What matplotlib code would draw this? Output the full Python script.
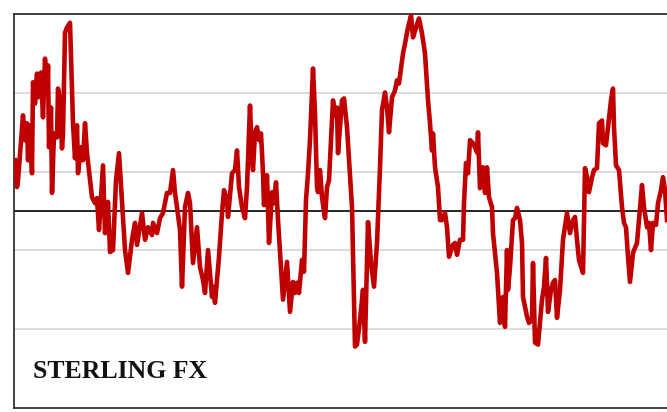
import matplotlib
matplotlib.use("Agg")
import matplotlib.pyplot as plt

# weekly index (arbitrary units) and z-score style value
weeks = [15, 17, 18, 23, 25, 27, 28, 30, 32, 33, 35, 37, 38, 41, 43, 45, 47, 48, 49, 51,
         52, 54, 57, 58, 60, 62, 63, 65, 67, 70, 73, 75, 77, 78, 81, 83, 85, 87, 92, 95,
         97, 99, 103, 105, 108, 110, 113, 116, 119, 125, 128, 132, 135, 137, 142, 145, 148, 152, 153, 157,
         160, 163, 167, 170, 173, 175, 177, 180, 182, 185, 188, 190, 193, 197, 200, 203, 205, 208, 212, 213,
         215, 219, 222, 224, 227, 228, 232, 235, 237, 239, 242, 245, 247, 250, 252, 253, 255, 257, 259, 261,
         263, 264, 267, 269, 272, 274, 276, 278, 283, 287, 290, 293, 295, 297, 299, 302, 304, 306, 308, 310,
         313, 315, 317, 318, 320, 322, 325, 327, 329, 333, 335, 337, 338, 342, 344, 347, 352, 355, 357, 360,
         363, 365, 368, 371, 374, 377, 380, 382, 385, 387, 389, 392, 395, 397, 399, 401, 403, 405, 408, 411,
         413, 416, 419, 422, 425, 428, 430, 432, 433, 435, 438, 440, 442, 445, 447, 449, 453, 455, 457, 460,
         463, 464, 466, 468, 470, 473, 475, 477, 478, 480, 483, 485, 487, 489, 492, 493, 497, 500, 503, 505,
         507, 508, 510, 513, 515, 517, 520, 522, 523, 527, 529, 532, 533, 535, 538, 542, 544, 546, 548, 551,
         553, 555, 557, 560, 563, 567, 570, 573, 575, 577, 579, 583, 585, 587, 589, 592, 594, 597, 599, 602,
         603, 606, 608, 611, 613, 614, 616, 619, 622, 624, 626, 628, 630, 633, 637, 639, 642, 644, 647, 649,
         651, 653, 656, 658, 661, 663, 665, 667]
sterling = [1.29, 0.61, 0.78, 2.43, 1.80, 2.23, 1.29, 2.18, 0.96, 3.27, 2.73, 3.49, 2.89, 3.52, 2.38, 3.87, 2.99, 3.70, 1.62, 2.63,
            0.46, 1.97, 1.87, 3.11, 2.81, 1.59, 1.97, 4.53, 4.66, 4.78, 2.23, 1.34, 2.18, 0.96, 1.62, 1.29, 2.23, 1.47, 0.35, 0.20,
            0.33, -0.48, 1.16, -0.56, 0.23, -1.04, -0.99, 0.78, 1.47, -0.99, -1.57, -0.73, -0.30, -0.86, -0.05, -0.73, -0.41, -0.61, -0.30, -0.56,
            -0.18, -0.05, 0.46, 0.46, 1.04, 0.46, 0.10, -0.48, -1.92, 0.10, 0.46, 0.20, -1.32, -0.41, -1.42, -1.75, -2.08, -0.99, -2.18, -1.92,
            -2.33, -1.16, -0.05, 0.53, 0.28, -0.15, 0.96, 1.04, 1.54, 0.61, 0.10, -0.18, 0.61, 2.68, 1.29, 1.04, 2.00, 2.13, 1.80, 1.97,
            0.96, 0.15, 0.91, -0.81, 0.48, 0.20, 0.73, -0.23, -2.25, -1.29, -2.56, -1.80, -2.08, -1.82, -2.08, -1.24, -1.54, 0.28, 0.96, 1.80,
            3.62, 2.48, 0.61, 0.48, 1.04, 0.35, -0.18, 0.61, 0.78, 2.81, 2.43, 2.63, 1.47, 2.81, 2.86, 2.13, 0.10, -3.44, -3.39, -2.76,
            -2.00, -3.32, -0.28, -1.32, -1.92, -0.81, 1.11, 2.56, 3.01, 2.63, 2.00, 2.89, 3.06, 3.32, 3.24, 3.62, 4.00, 4.25, 4.66, 4.96,
            4.41, 4.66, 4.89, 4.51, 4.00, 2.81, 2.23, 1.54, 1.97, 1.11, 0.61, -0.23, -0.23, -0.05, -0.41, -1.16, -0.86, -0.81, -1.11, -0.73,
            -0.73, 0.20, 1.22, 0.96, 1.80, 1.72, 1.62, 1.49, 2.00, 0.58, 1.11, 0.46, 1.11, 0.35, 0.10, -0.56, -1.57, -2.84, -2.18, -2.94,
            -0.99, -2.00, -1.42, -0.23, -0.18, 0.08, -0.23, -0.81, -2.18, -2.68, -2.84, -2.76, -1.32, -3.34, -3.39, -2.25, -1.92, -1.19, -2.56, -2.00,
            -1.82, -1.75, -2.71, -2.00, -0.73, -0.05, -0.56, -0.23, -0.15, -0.73, -1.24, -1.57, 1.09, 0.86, 0.48, 0.86, 1.04, 1.09, 2.23, 2.30,
            1.72, 1.67, 2.13, 2.81, 3.11, 2.13, 1.16, 1.04, 0.10, -0.30, -0.41, -1.16, -1.80, -1.06, -0.81, -0.23, 0.66, 0.10, -0.41, -0.30,
            -0.99, -0.30, -0.35, 0.20, 0.53, 0.86, 0.53, -0.23]
grid_levels = [-3, -1, 1, 3]
label = "STERLING FX"

fig = plt.figure(figsize=(6.67, 4.12), dpi=100)
ax = fig.add_axes([0.021, 0.0097, 0.979, 0.956])

for g in grid_levels:
    ax.axhline(g, color="#d9d9d9", lw=1.3, zorder=1)
ax.axhline(0, color="black", lw=1.2, zorder=2)
ax.plot(weeks, sterling, color="#c00000", lw=3.3, solid_joinstyle="round", zorder=3)

ax.set_xlim(14, 667)
ax.set_ylim(-5, 5)
ax.set_xticks([])
ax.set_yticks([])
for side in ["left", "top", "bottom"]:
    ax.spines[side].set_color("#333333")
    ax.spines[side].set_linewidth(1.3)
ax.spines["right"].set_visible(False)

ax.text(0.029, 0.076, label, transform=ax.transAxes, fontsize=18.5, fontweight="bold",
        family="Liberation Serif", va="baseline", ha="left", color="#111111")

fig.savefig("out.png", dpi=100)
